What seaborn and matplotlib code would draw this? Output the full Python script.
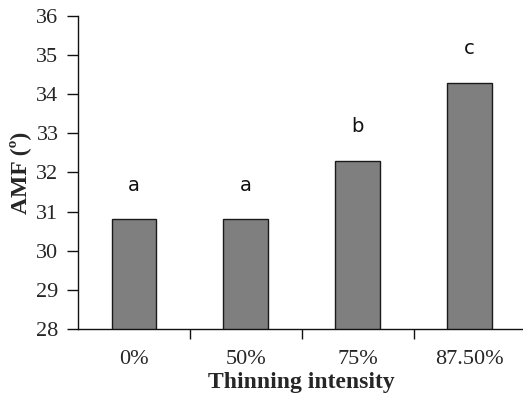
import matplotlib
matplotlib.use("Agg")
import matplotlib.pyplot as plt
import seaborn as sns
import pandas as pd
import numpy as np

# Mean AMF by thinning intensity, with significance letters
intensity = ["0%", "50%", "75%", "87.50%"]
amf = [30.8, 30.8, 32.3, 34.3]
letters = ["a", "a", "b", "c"]

df = pd.DataFrame({"intensity": intensity, "amf": amf})

sns.set_style("white")
plt.rcParams["font.family"] = ["Liberation Serif", "DejaVu Serif"]

fig = plt.figure(figsize=(5.23, 3.97), dpi=100)
ax = fig.add_axes([0.1491, 0.1713, 0.856, 0.7884])

sns.barplot(data=df, x="intensity", y="amf", color="#7f7f7f", saturation=1,
            width=0.4, edgecolor="#1a1a1a", linewidth=1.0, ax=ax)

for i, (v, t) in enumerate(zip(amf, letters)):
    ax.text(i, v + 0.87, t, ha="center", va="center", fontsize=14,
            family="DejaVu Sans", color="#111111")

ax.set_ylim(28, 36)
ax.set_xlim(-0.5, 3.5)
ax.set_yticks(np.arange(28, 37, 1))

# category labels centred, tick marks on category boundaries
ax.set_xticks(range(len(intensity)))
ax.set_xticklabels(intensity)
ax.set_xticks([0.5, 1.5, 2.5], minor=True)
ax.tick_params(axis="x", which="major", length=0, pad=15, labelsize=16)
ax.tick_params(axis="x", which="minor", length=7, width=1, direction="out",
               color="#111111", bottom=True)
ax.tick_params(axis="y", length=8, width=1, direction="out", pad=6,
               labelsize=16, left=True, color="#111111")

for s in ["top", "right"]:
    ax.spines[s].set_visible(False)
for s in ["left", "bottom"]:
    ax.spines[s].set_color("#111111")
    ax.spines[s].set_linewidth(1.0)

ax.set_xlabel("Thinning intensity", fontsize=17, fontweight="bold", labelpad=2)
ax.set_ylabel("AMF (º)", fontsize=17, fontweight="bold", labelpad=4)

fig.savefig("out.png", dpi=100)
